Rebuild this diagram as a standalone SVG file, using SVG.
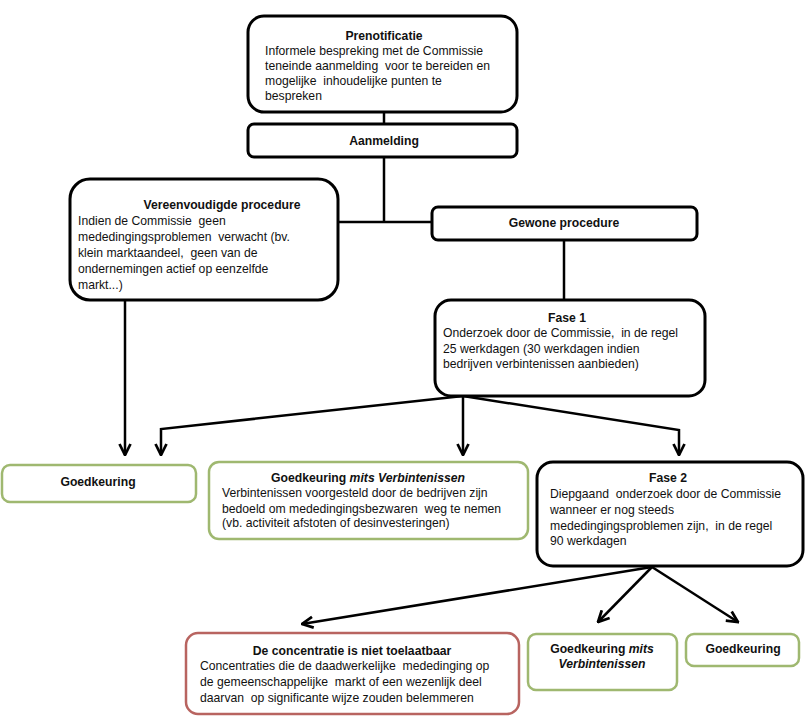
<svg xmlns="http://www.w3.org/2000/svg" width="810" height="727" viewBox="0 0 810 727">
<defs>
<style>
.box{fill:#fff;stroke:#000;stroke-width:3}
.g{fill:#fff;stroke:#9fb870;stroke-width:2.5}
.r{fill:#fff;stroke:#b86460;stroke-width:2.5}
text{font-family:"Liberation Sans",Arial,sans-serif;font-size:12.2px;fill:#111;white-space:pre}
.t{font-weight:bold;text-anchor:middle}
.c{text-anchor:middle}
.ln{fill:none;stroke:#000;stroke-width:2.5}
</style>
<marker id="ah" viewBox="0 0 10 10" refX="9" refY="5" markerWidth="5.5" markerHeight="5.5" orient="auto" markerUnits="strokeWidth">
<path d="M1,1 L9,5 L1,9" fill="none" stroke="#000" stroke-width="2"/>
</marker>
</defs>
<rect width="810" height="727" fill="#fff"/>
<g id="connectors">
<line class="ln" x1="384" y1="112" x2="384" y2="124"/>
<line class="ln" x1="384" y1="157" x2="384" y2="222"/>
<line class="ln" x1="338" y1="222" x2="432" y2="222"/>
<line class="ln" x1="564" y1="240" x2="564" y2="300"/>
<line class="ln" x1="125" y1="300" x2="125" y2="455" marker-end="url(#ah)"/>
<polyline class="ln" points="463,396 161,429 161,455" marker-end="url(#ah)"/>
<line class="ln" x1="463" y1="396" x2="463" y2="455" marker-end="url(#ah)"/>
<polyline class="ln" points="463,396 679,430 679,455" marker-end="url(#ah)"/>
<line class="ln" x1="652" y1="567" x2="302" y2="624" marker-end="url(#ah)"/>
<line class="ln" x1="652" y1="567" x2="598" y2="622" marker-end="url(#ah)"/>
<line class="ln" x1="652" y1="567" x2="738" y2="622" marker-end="url(#ah)"/>
</g>
<g id="prenotificatie">
<rect class="box" x="248" y="16" width="269" height="96" rx="16"/>
<text class="t" x="384" y="40">Prenotificatie</text>
<text x="265" y="55">Informele bespreking met de Commissie</text>
<text x="265" y="70">teneinde aanmelding  voor te bereiden en</text>
<text x="265" y="85">mogelijke  inhoudelijke punten te</text>
<text x="265" y="100">bespreken</text>
</g>
<g id="aanmelding">
<rect class="box" x="248" y="124" width="269" height="33" rx="6"/>
<text class="t" x="384" y="145">Aanmelding</text>
</g>
<g id="vereenvoudigde">
<rect class="box" x="70" y="179" width="268" height="121" rx="20"/>
<text class="t" x="222" y="209">Vereenvoudigde procedure</text>
<text x="78" y="225">Indien de Commissie  geen</text>
<text x="78" y="241">mededingingsproblemen  verwacht (bv.</text>
<text x="78" y="257">klein marktaandeel,  geen van de</text>
<text x="78" y="273">ondernemingen actief op eenzelfde</text>
<text x="78" y="289">markt...)</text>
</g>
<g id="gewone">
<rect class="box" x="432" y="207" width="265" height="33" rx="6"/>
<text class="t" x="564" y="227">Gewone procedure</text>
</g>
<g id="fase1">
<rect class="box" x="435" y="300" width="270" height="96" rx="16"/>
<text class="t" x="567" y="322">Fase 1</text>
<text x="443" y="337">Onderzoek door de Commissie,  in de regel</text>
<text x="443" y="353">25 werkdagen (30 werkdagen indien</text>
<text x="443" y="368">bedrijven verbintenissen aanbieden)</text>
</g>
<g id="goedkeuring1">
<rect class="g" x="2" y="465" width="194" height="37" rx="8"/>
<text class="t" x="98" y="486">Goedkeuring</text>
</g>
<g id="goedkeuring-mits1">
<rect class="g" x="209" y="462" width="319" height="77" rx="10"/>
<text class="t" x="368" y="482">Goedkeuring <tspan font-style="italic">mits Verbintenissen</tspan></text>
<text x="222" y="497">Verbintenissen voorgesteld door de bedrijven zijn</text>
<text x="222" y="513">bedoeld om mededingingsbezwaren  weg te nemen</text>
<text x="222" y="527">(vb. activiteit afstoten of desinvesteringen)</text>
</g>
<g id="fase2">
<rect class="box" x="537" y="462" width="266" height="104" rx="16"/>
<text class="t" x="668" y="482">Fase 2</text>
<text x="550" y="498">Diepgaand  onderzoek door de Commissie</text>
<text x="550" y="514">wanneer er nog steeds</text>
<text x="550" y="530">mededingingsproblemen zijn,  in de regel</text>
<text x="550" y="545">90 werkdagen</text>
</g>
<g id="niet-toelaatbaar">
<rect class="r" x="186" y="633" width="333" height="81" rx="12"/>
<text class="t" x="352" y="655">De concentratie is niet toelaatbaar</text>
<text x="200" y="670">Concentraties die de daadwerkelijke  mededinging op</text>
<text x="200" y="686">de gemeenschappelijke  markt of een wezenlijk deel</text>
<text x="200" y="702">daarvan  op significante wijze zouden belemmeren</text>
</g>
<g id="goedkeuring-mits2">
<rect class="g" x="528" y="634" width="149" height="56" rx="8"/>
<text class="t" x="602" y="653">Goedkeuring <tspan font-style="italic">mits</tspan></text>
<text class="t" x="602" y="668" font-style="italic">Verbintenissen</text>
</g>
<g id="goedkeuring2">
<rect class="g" x="686" y="634" width="113" height="32" rx="8"/>
<text class="t" x="743" y="653">Goedkeuring</text>
</g>
</svg>
